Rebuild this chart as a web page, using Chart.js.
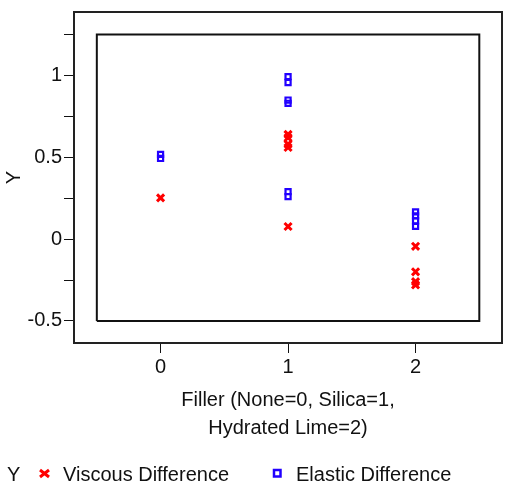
<!DOCTYPE html>
<html>
<head>
<meta charset="utf-8">
<script src="https://cdn.jsdelivr.net/npm/chart.js@4/dist/chart.umd.min.js"></script>
<style>
  html, body { margin: 0; padding: 0; background: #fff; overflow: hidden; }
  canvas { display: block; }
</style>
</head>
<body>
<canvas id="scatterCanvas" width="506" height="497"></canvas>
<script>
// filler code on x, measured differences on y
const viscousX = [0, 1, 1, 1, 1, 1, 2, 2, 2, 2];
const viscousY = [0.252, 0.64, 0.62, 0.58, 0.56, 0.077, -0.044, -0.20, -0.26, -0.28];

const elasticX = [0, 0, 1, 1, 1, 1, 1, 1, 2, 2, 2, 2];
const elasticY = [0.518, 0.493, 0.993, 0.957, 0.85, 0.83, 0.29, 0.26, 0.166, 0.142, 0.112, 0.078];

// reference box drawn inside the frame
const boxX = [-0.5, 2.5, 2.5, -0.5, -0.5];
const boxY = [-0.5, -0.5, 1.25, 1.25, -0.5];

const xTicks = [0, 1, 2];
const yTicks = [-0.5, -0.25, 0, 0.25, 0.5, 0.75, 1, 1.25];

const xTitle = ["Filler (None=0, Silica=1,", "Hydrated Lime=2)"];
const yTitle = "Y";

const red = "#ff0000";
const blue = "#2200ff";
const fontFamily = "'Liberation Sans', Arial, sans-serif";

const toPoints = (xs, ys) => xs.map((x, i) => ({ x: x, y: ys[i] }));

Chart.defaults.font.family = fontFamily;
Chart.defaults.font.size = 20;
Chart.defaults.color = "#111";

// outer frame around the plot area
const framePlugin = {
    id: "frame",
    afterDraw(chart) {
        const { ctx, chartArea } = chart;
        ctx.save();
        ctx.strokeStyle = "#222";
        ctx.lineWidth = 2;
        ctx.strokeRect(chartArea.left, chartArea.top,
            chartArea.right - chartArea.left, chartArea.bottom - chartArea.top);
        ctx.restore();
    }
};

// legend row at the bottom: "Y  x Viscous Difference   o Elastic Difference"
const legendRow = {
    id: "legendRow",
    afterDraw(chart) {
        const ctx = chart.ctx;
        const y = 475;
        ctx.save();
        ctx.font = "20px " + fontFamily;
        ctx.fillStyle = "#111";
        ctx.textBaseline = "middle";
        ctx.textAlign = "left";
        ctx.fillText(yTitle, 7, y);
        ctx.fillText(chart.data.datasets[1].label, 63, y);
        ctx.fillText(chart.data.datasets[2].label, 296, y);

        // cross marker
        ctx.strokeStyle = red;
        ctx.lineWidth = 3;
        ctx.beginPath();
        ctx.moveTo(40, 470); ctx.lineTo(49, 477);
        ctx.moveTo(49, 470); ctx.lineTo(40, 477);
        ctx.stroke();

        // square marker
        ctx.strokeStyle = blue;
        ctx.lineWidth = 2.5;
        ctx.strokeRect(274, 470, 6.5, 6.5);
        ctx.restore();
    }
};

const scatterChart = new Chart(document.querySelector("#scatterCanvas"), {
    type: "scatter",
    data: {
        datasets: [
            {
                type: "line",
                label: "box",
                data: toPoints(boxX, boxY),
                borderColor: "#111",
                borderWidth: 2,
                pointRadius: 0,
                fill: false,
                tension: 0,
                order: 3
            },
            {
                label: "Viscous Difference",
                data: toPoints(viscousX, viscousY),
                pointStyle: "crossRot",
                pointRadius: 5,
                borderColor: red,
                borderWidth: 3,
                order: 2
            },
            {
                label: "Elastic Difference",
                data: toPoints(elasticX, elasticY),
                pointStyle: "rect",
                pointRadius: 3.6,
                borderColor: blue,
                backgroundColor: "rgba(0,0,0,0)",
                borderWidth: 2.2,
                order: 1
            }
        ]
    },
    options: {
        responsive: false,
        maintainAspectRatio: false,
        animation: false,
        layout: {
            autoPadding: false,
            padding: { top: 12, right: 4, bottom: 54, left: 0 }
        },
        plugins: {
            legend: { display: false },
            tooltip: { enabled: false }
        },
        scales: {
            x: {
                type: "linear",
                min: -0.679,
                max: 2.678,
                afterBuildTicks: (scale) => {
                    scale.ticks = xTicks.map(v => ({ value: v }));
                },
                afterFit: (scale) => {
                    scale.height = 100;
                    scale.paddingLeft = 0;
                    scale.paddingRight = 0;
                },
                grid: {
                    drawOnChartArea: false,
                    drawTicks: true,
                    tickLength: 10,
                    color: "#111",
                    lineWidth: 1
                },
                border: { display: false },
                ticks: {
                    padding: 2,
                    maxRotation: 0,
                    font: { size: 20 }
                },
                title: {
                    display: true,
                    text: xTitle,
                    font: { size: 20, lineHeight: 1.4 },
                    padding: { top: 0, bottom: 1 }
                }
            },
            y: {
                type: "linear",
                min: -0.635,
                max: 1.388,
                afterBuildTicks: (scale) => {
                    scale.ticks = yTicks.map(v => ({ value: v }));
                },
                afterFit: (scale) => {
                    scale.width = 74;
                    scale.paddingTop = 0;
                    scale.paddingBottom = 0;
                },
                grid: {
                    drawOnChartArea: false,
                    drawTicks: true,
                    tickLength: 10,
                    color: "#111",
                    lineWidth: 1
                },
                border: { display: false },
                ticks: {
                    padding: 2,
                    font: { size: 20 },
                    callback: (value) => (Math.abs(value * 2 - Math.round(value * 2)) < 1e-9 ? String(value) : "")
                },
                title: {
                    display: true,
                    text: yTitle,
                    font: { size: 20 },
                    padding: { top: 2, bottom: 0 }
                }
            }
        }
    },
    plugins: [framePlugin, legendRow]
});
</script>
</body>
</html>
